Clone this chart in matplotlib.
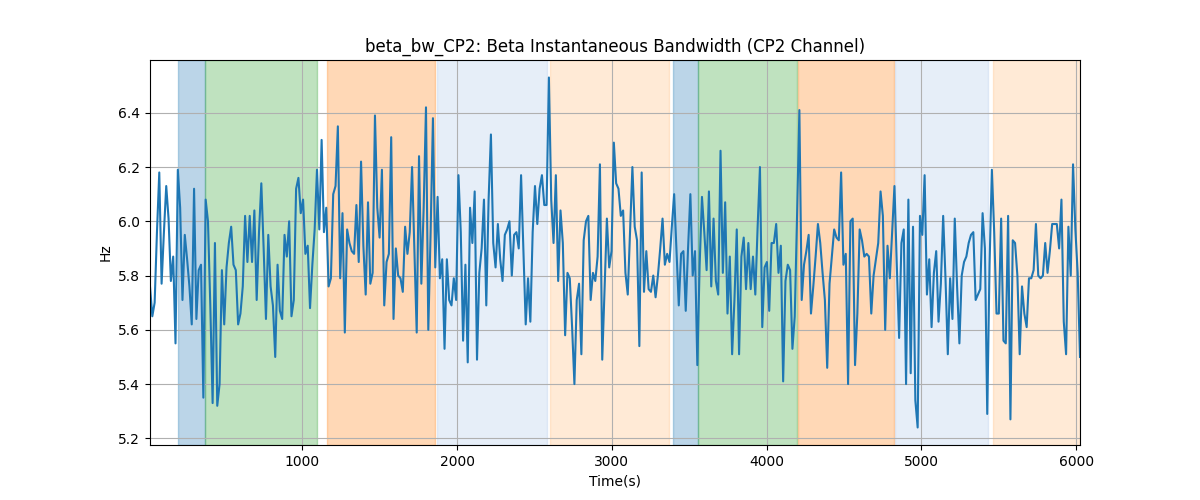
import numpy as np
import matplotlib
matplotlib.use("Agg")
import matplotlib.pyplot as plt

# ---- data ----
t_start, t_end = 17, 6024

seg1 = [5.76, 5.65, 5.70, 5.96, 6.18, 5.77, 5.96, 6.13, 6.01, 5.78, 5.87, 5.55, 6.19, 6.05, 5.71,
        5.95, 5.86, 5.76, 5.62, 6.12, 5.64, 5.82, 5.84, 5.35, 6.08, 6.00, 5.69, 5.33, 5.92, 5.32,
        5.40, 5.82, 5.62, 5.83, 5.92, 5.98, 5.84, 5.82, 5.62, 5.66, 5.76, 6.02, 5.85, 6.02, 5.85,
        6.04, 5.71, 5.96, 6.14, 5.90, 5.64]
seg2 = [5.95, 5.76, 5.69, 5.50, 5.84, 5.67, 5.64, 5.95, 5.87, 6.00, 5.65, 5.71, 6.12, 6.16, 6.03,
        6.08, 5.88, 5.91, 5.68, 5.84, 5.97, 6.19, 5.97, 6.30, 5.96, 6.05, 5.76, 5.79, 6.10, 6.13,
        6.35, 5.79, 6.03, 5.59, 5.97, 5.92, 5.89, 5.88, 6.06, 5.85, 6.22, 5.91, 5.73, 6.07, 5.77,
        5.81, 6.39, 6.05, 5.94, 6.19]
seg3 = [5.69, 5.85, 5.88, 6.31, 5.64, 5.90, 5.80, 5.79, 5.74, 5.98, 5.88, 5.96, 6.20, 5.90, 5.59,
        6.24, 5.77, 6.05, 6.42, 5.60, 5.96, 6.38, 5.83, 6.09, 5.79, 5.86, 5.53, 5.86, 5.71, 5.69,
        5.79, 5.71, 6.17, 5.96, 5.56, 5.84, 5.48, 6.05, 5.92, 6.11, 5.49, 5.81, 5.90, 6.08, 5.69,
        6.08, 6.32, 5.92, 5.83, 5.99]
seg4 = [5.86, 5.78, 5.95, 5.97, 6.00, 5.80, 5.95, 5.96, 5.90, 6.17, 5.90, 5.62, 5.79, 5.63, 5.96,
        6.13, 5.99, 6.12, 6.17, 6.06, 6.06, 6.53, 6.08, 5.92, 6.17, 5.78, 6.04, 5.92, 5.58, 5.81,
        5.79, 5.61, 5.40, 5.71, 5.77, 5.51, 5.93, 6.00, 6.02, 5.71, 5.81, 5.78, 5.87, 6.21, 5.49,
        5.75, 6.01, 5.83, 5.89, 6.29]
seg5 = [6.14, 6.12, 6.02, 6.04, 5.81, 5.73, 5.96, 6.20, 5.98, 5.93, 5.54, 6.18, 5.74, 5.89, 5.75,
        5.74, 5.80, 5.72, 5.80, 5.90, 6.01, 5.84, 5.88, 5.85, 5.98, 6.10, 5.89, 5.69, 5.88, 5.89,
        5.67, 5.90, 6.10, 5.80, 5.89, 5.47, 5.84, 6.09, 5.96, 5.82, 6.11, 5.76, 6.01, 5.78, 5.73,
        6.26, 5.81, 6.07, 5.66, 5.87]
seg6 = [5.51, 5.71, 5.97, 5.51, 5.87, 5.94, 5.75, 5.92, 5.75, 5.87, 5.73, 5.98, 6.20, 5.61, 5.83,
        5.85, 5.67, 5.92, 5.92, 5.99, 5.81, 5.91, 5.41, 5.78, 5.84, 5.82, 5.53, 5.65, 6.02, 6.41,
        5.71, 5.84, 5.89, 5.95, 5.66, 5.76, 5.87, 5.99, 5.92, 5.81, 5.71, 5.46, 5.77, 5.87, 5.97,
        5.94, 5.93, 6.18, 5.84, 5.88]
seg7 = [5.40, 6.00, 6.01, 5.47, 5.66, 5.97, 5.93, 5.87, 5.88, 5.87, 5.66, 5.80, 5.86, 5.92, 6.11,
        6.02, 5.60, 5.91, 5.79, 5.96, 6.13, 5.84, 5.57, 5.92, 5.97, 5.40, 6.08, 5.44, 5.98, 5.34,
        5.24, 6.02, 5.95, 6.17, 5.73, 5.86, 5.61, 5.81, 5.89, 5.63, 5.77, 6.02, 5.79, 5.51, 5.79,
        5.64, 6.01, 5.76, 5.55, 5.80]
seg8 = [5.85, 5.87, 5.92, 5.95, 5.96, 5.71, 5.73, 5.75, 6.03, 5.90, 5.29, 5.84, 6.19, 5.96, 5.66,
        5.66, 6.01, 5.56, 5.55, 6.02, 5.27, 5.93, 5.92, 5.80, 5.51, 5.76, 5.66, 5.61, 5.79, 5.79,
        5.82, 5.99, 5.80, 5.79, 5.80, 5.92, 5.81, 5.89, 5.99, 5.99, 5.99, 5.90, 6.08, 5.63, 5.51,
        5.98, 5.80, 6.21, 5.97, 5.81, 5.50]

values = seg1 + seg2 + seg3 + seg4 + seg5 + seg6 + seg7 + seg8
times = np.linspace(t_start, t_end, len(values))

# shaded phases: (start, end, color, alpha)
span_starts = [200, 374, 1159, 1871, 2598, 3398, 3559, 4203, 4828, 5463]
span_ends = [374, 1093, 1856, 2581, 3368, 3559, 4198, 4824, 5430, 6024]
span_colors = ["tab:blue", "tab:green", "tab:orange", "#aec7e8", "#ffbb78",
               "tab:blue", "tab:green", "tab:orange", "#aec7e8", "#ffbb78"]

title = "beta_bw_CP2: Beta Instantaneous Bandwidth (CP2 Channel)"

fig, ax = plt.subplots(figsize=(12, 5), dpi=100)
for s, e, c in zip(span_starts, span_ends, span_colors):
    ax.axvspan(s, e, color=c, alpha=0.3)
ax.plot(times, values, color="tab:blue", linewidth=1.5)
ax.set_xlim(times[0], times[-1])
ax.set_title(title)
ax.set_xlabel("Time(s)")
ax.set_ylabel("Hz")
ax.grid(True)
fig.savefig("out.png", dpi=100)
